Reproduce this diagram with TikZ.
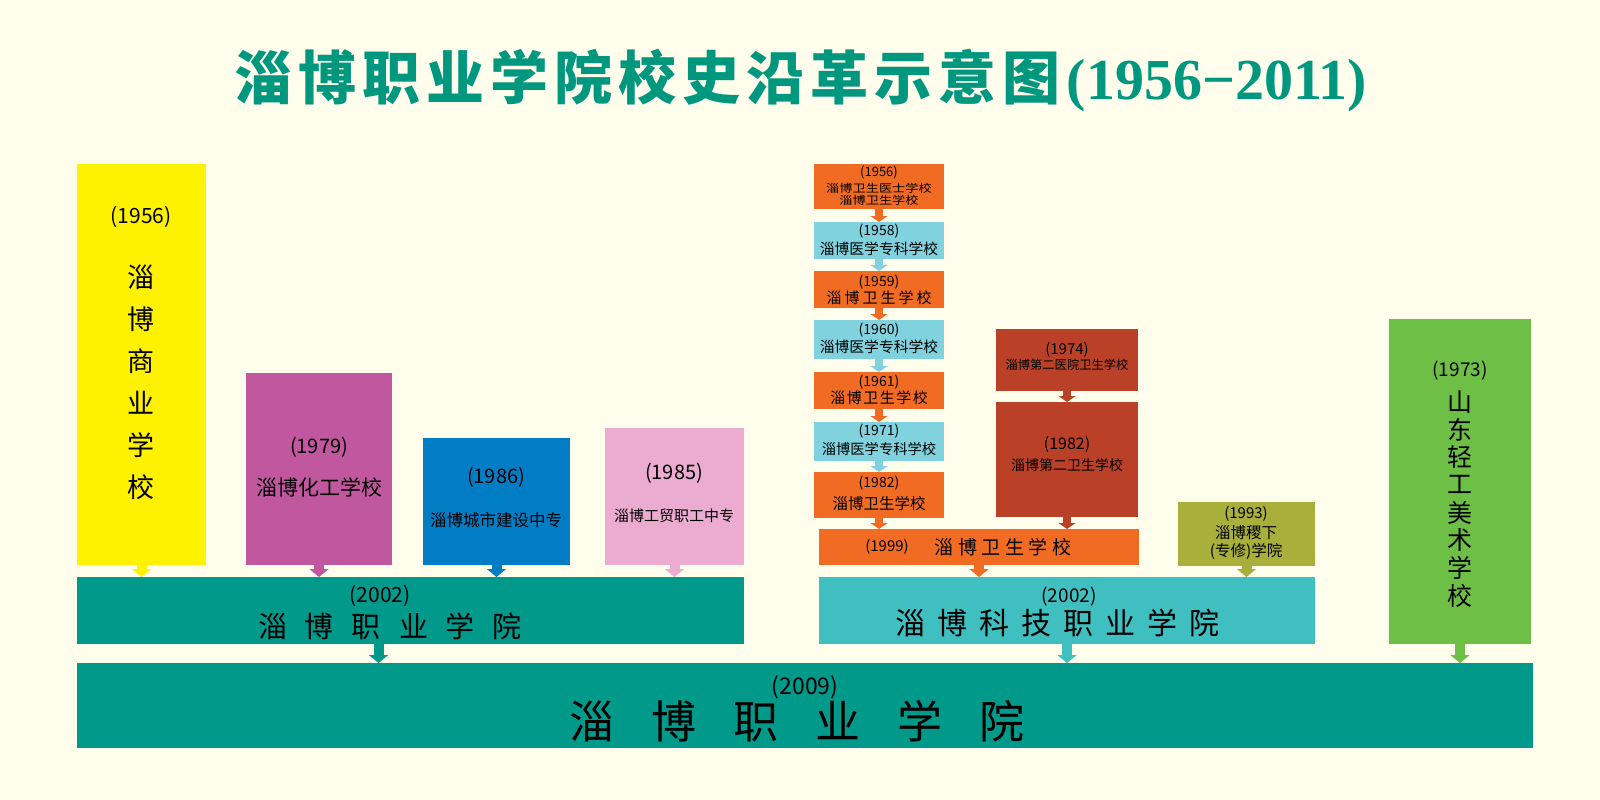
\documentclass[tikz,border=0pt]{standalone}
\usepackage{fontspec}
\setmainfont{Noto Sans CJK SC}
\newfontfamily\numfont{Liberation Serif}
\usetikzlibrary{arrows.meta}

\definecolor{paper}{HTML}{FFFDEB}
\definecolor{titlegreen}{HTML}{00977F}
\definecolor{zbyellow}{HTML}{FFF200}
\definecolor{zbmagenta}{HTML}{C1579F}
\definecolor{zbblue}{HTML}{007DC5}
\definecolor{zbpink}{HTML}{ECABD0}
\definecolor{zbteal}{HTML}{00998A}
\definecolor{zborange}{HTML}{F26B22}
\definecolor{zbsky}{HTML}{7FD2DE}
\definecolor{zbbrick}{HTML}{BA4128}
\definecolor{zbolive}{HTML}{A9AF3B}
\definecolor{zbcyan}{HTML}{40BFC0}
\definecolor{zbgreen}{HTML}{6DBF45}

% spread characters apart: \zbspread{gap}{chars}
\def\zbspread#1#2{\def\zbgap{\hspace{#1}}\zbspreadA#2\relax}
\def\zbspreadA#1{#1\zbspreadB}
\def\zbspreadB#1{\ifx#1\relax\else\zbgap#1\expandafter\zbspreadB\fi}

\begin{document}
\begin{tikzpicture}[x=1pt, y=-1pt,
    box/.style={fill=#1, draw=none, inner sep=0pt, outer sep=0pt, anchor=north west},
    lab/.style={inner sep=0pt, font=\fontsize{#1}{#1}\selectfont},
    merge/.style={draw=#1, line width=10pt, -{Triangle[width=19pt,length=8pt]}},
    pass/.style={draw=#1, line width=8pt, -{Triangle[width=17pt,length=6pt]}}]

      \useasboundingbox (0,0) rectangle (1600,800);
      \fill[paper] (0,0) rectangle (1600,800);

      \node[inner sep=0pt, text=titlegreen, font=\fontsize{58}{60}\selectfont\bfseries] (title) at (801,80)
        {\zbspread{6pt}{淄博职业学院校史沿革示意图}\hspace{6pt}{\numfont(1956−2011)}};

      % left branch
      \node[box=zbyellow, minimum width=129pt, minimum height=401pt] (shangye) at (77,164) {};
      \node[box=zbmagenta, minimum width=146pt, minimum height=192pt] (huagong) at (246,373) {};
      \node[box=zbblue, minimum width=147pt, minimum height=127pt] (chengjian) at (423,438) {};
      \node[box=zbpink, minimum width=139pt, minimum height=137pt] (gongmao) at (605,428) {};
      \node[box=zbteal, minimum width=667pt, minimum height=67pt] (zhiye02) at (77,577) {};
      \node[box=zbteal, minimum width=1456pt, minimum height=85pt] (zhiye09) at (77,663) {};

      \node[lab=21] (y56a) at (141,217) {(1956)};
      \foreach \c [count=\i] in {淄,博,商,业,学,校}
        \node[lab=27] (sy\i) at (141,235+42*\i) {\c};

      \node[lab=20] (y79) at (319,447) {(1979)};
      \node[lab=21] (hg) at (319,487) {淄博化工学校};
      \node[lab=20] (y86) at (496,477) {(1986)};
      \node[lab=16.5] (cj) at (496,520) {淄博城市建设中专};
      \node[lab=20] (y85) at (674,473) {(1985)};
      \node[lab=15] (gm) at (674,516) {淄博工贸职工中专};

      \node[lab=21] (y02a) at (380,596) {(2002)};
      \node[lab=29] (zy02) at (390,626) {\zbspread{18pt}{淄博职业学院}};
      \node[lab=23] (y09) at (805,687) {(2009)};
      \node[lab=45] (zy09) at (797,721) {\zbspread{37pt}{淄博职业学院}};

      % middle branch
      \node[box=zborange, minimum width=130pt, minimum height=45pt] (ws56) at (814,164) {};
      \node[box=zbsky, minimum width=130pt, minimum height=37pt] (yx58) at (814,222) {};
      \node[box=zborange, minimum width=130pt, minimum height=37pt] (ws59) at (814,271) {};
      \node[box=zbsky, minimum width=130pt, minimum height=39pt] (yx60) at (814,320) {};
      \node[box=zborange, minimum width=130pt, minimum height=37pt] (ws61) at (814,372) {};
      \node[box=zbsky, minimum width=130pt, minimum height=39pt] (yx71) at (814,422) {};
      \node[box=zborange, minimum width=130pt, minimum height=46pt] (ws82) at (814,472) {};
      \node[box=zborange, minimum width=320pt, minimum height=36pt] (ws99) at (819,529) {};
      \node[box=zbbrick, minimum width=142pt, minimum height=62pt] (de74) at (996,329) {};
      \node[box=zbbrick, minimum width=142pt, minimum height=115pt] (de82) at (996,402) {};
      \node[box=zbolive, minimum width=137pt, minimum height=64pt] (jixia) at (1178,502) {};
      \node[box=zbcyan, minimum width=496pt, minimum height=67pt] (keji02) at (819,577) {};

      \node[lab=13] (y56b) at (879,172) {(1956)};
      \node[lab=11, xscale=1.2] (ws56a) at (879,188) {淄博卫生医士学校};
      \node[lab=11, xscale=1.2] (ws56b) at (879,200) {淄博卫生学校};
      \node[lab=14] (y58) at (879,231) {(1958)};
      \node[lab=14.8] (yx58t) at (879,249) {淄博医学专科学校};
      \node[lab=14] (y59) at (879,282) {(1959)};
      \node[lab=15] (ws59t) at (879,298) {\zbspread{3pt}{淄博卫生学校}};
      \node[lab=14] (y60) at (879,330) {(1960)};
      \node[lab=14.8] (yx60t) at (879,347) {淄博医学专科学校};
      \node[lab=14] (y61) at (879,382) {(1961)};
      \node[lab=15] (ws61t) at (879,398) {\zbspread{1.5pt}{淄博卫生学校}};
      \node[lab=14] (y71) at (879,431) {(1971)};
      \node[lab=14.3] (yx71t) at (879,449) {淄博医学专科学校};
      \node[lab=14] (y82a) at (879,483) {(1982)};
      \node[lab=15.5] (ws82t) at (879,504) {淄博卫生学校};
      \node[lab=15] (y99) at (887,547) {(1999)};
      \node[lab=19] (ws99t) at (1003,547) {\zbspread{4.5pt}{淄博卫生学校}};

      \node[lab=15] (y74) at (1067,350) {(1974)};
      \node[lab=12.3] (de74t) at (1067,365) {淄博第二医院卫生学校};
      \node[lab=16] (y82b) at (1067,445) {(1982)};
      \node[lab=14] (de82t) at (1067,465) {淄博第二卫生学校};

      \node[lab=15] (y93) at (1246,514) {(1993)};
      \node[lab=15.5] (jx1) at (1246,533) {淄博稷下};
      \node[lab=15.5] (jx2) at (1246,551) {(专修)学院};

      \node[lab=19] (y02b) at (1069,597) {(2002)};
      \node[lab=30] (kj02) at (1057,623) {\zbspread{12pt}{淄博科技职业学院}};

      % right branch
      \node[box=zbgreen, minimum width=142pt, minimum height=325pt] (qinggong) at (1389,319) {};
      \node[lab=19] (y73) at (1460,371) {(1973)};
      \foreach \c [count=\i] in {山,东,轻,工,美,术,学,校}
        \node[lab=25] (qg\i) at (1460,374+27.7*\i) {\c};

      % arrows
      \draw[merge=zbyellow] (shangye.south) -- (shangye.south |- zhiye02.north);
      \draw[merge=zbmagenta] (huagong.south) -- (huagong.south |- zhiye02.north);
      \draw[merge=zbblue] (chengjian.south) -- (chengjian.south |- zhiye02.north);
      \draw[merge=zbpink] (gongmao.south) -- (gongmao.south |- zhiye02.north);
      \coordinate (drop) at ([xshift=-32pt]zhiye02.south);
      \draw[merge=zbteal] (drop) -- (drop |- zhiye09.north);

      \foreach \a/\b/\c in {ws56/yx58/zborange, yx58/ws59/zbsky, ws59/yx60/zborange,
          yx60/ws61/zbsky, ws61/yx71/zborange, yx71/ws82/zbsky, de74/de82/zbbrick}
        \draw[pass=\c] (\a.south) -- (\b.north);
      \draw[pass=zborange] (ws82.south) -- (ws82.south |- ws99.north);
      \draw[pass=zbbrick] (de82.south) -- (de82.south |- ws99.north);
      \draw[merge=zborange] (ws99.south) -- (ws99.south |- keji02.north);
      \draw[merge=zbolive] (jixia.south) -- (jixia.south |- keji02.north);
      \draw[merge=zbcyan] (keji02.south) -- (keji02.south |- zhiye09.north);
      \draw[merge=zbgreen] (qinggong.south) -- (qinggong.south |- zhiye09.north);
\end{tikzpicture}
\end{document}
